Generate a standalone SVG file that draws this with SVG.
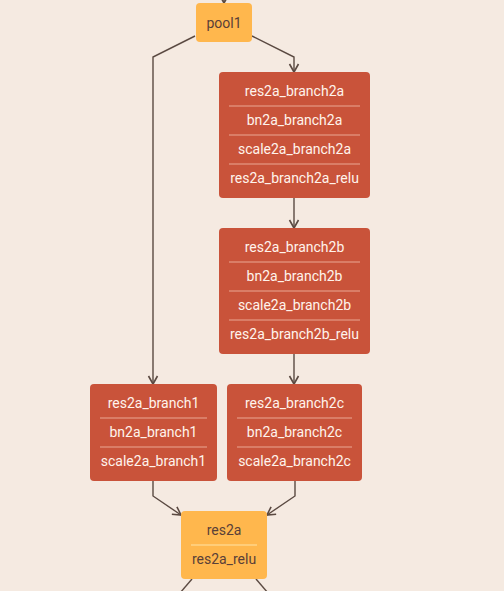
<svg xmlns="http://www.w3.org/2000/svg" width="504" height="591" viewBox="0 0 504 591">
<defs>
<marker id="arr" markerWidth="12" markerHeight="12" refX="10" refY="6" orient="auto" markerUnits="userSpaceOnUse">
<path d="M2,1.5 L10,6 L2,10.5" fill="none" stroke="#5b4a42" stroke-width="1.6"/>
</marker>
<style>
.e{fill:none;stroke:#5b4a42;stroke-width:1.4}
.r{fill:#c9533a}
.y{fill:#ffb74d}
.sr{stroke:#eaa893;stroke-width:1}
.sy{stroke:#ffe3a6;stroke-width:1}
.tw{font-family:Roboto,"Liberation Sans",sans-serif;font-size:14px;fill:#fff3ec;text-anchor:middle;dominant-baseline:central}
.td{font-family:Roboto,"Liberation Sans",sans-serif;font-size:14px;fill:#5a4038;text-anchor:middle;dominant-baseline:central}
</style>
</defs>
<rect width="504" height="591" fill="#f5eae1"/>
<g id="edges">
<path class="e" d="M224,-10 L224,3" marker-end="url(#arr)"/>
<path class="e" d="M195,36 L153,57 L153,384" marker-end="url(#arr)"/>
<path class="e" d="M252,36 L294,57 L294,72" marker-end="url(#arr)"/>
<path class="e" d="M294,198 L294,228" marker-end="url(#arr)"/>
<path class="e" d="M294,354 L294,384" marker-end="url(#arr)"/>
<path class="e" d="M153,481 L153,496 L181,515" marker-end="url(#arr)"/>
<path class="e" d="M295,481 L295,496 L267,515" marker-end="url(#arr)"/>
<path class="e" d="M192,579 L180,593"/>
<path class="e" d="M256,579 L268,593"/>
</g>
<g id="pool1">
<rect class="y" x="196" y="3" width="56" height="39" rx="4"/>
<text class="td" x="224" y="22.5">pool1</text>
</g>
<g id="res2a_branch2a">
<rect class="r" x="219" y="72" width="151" height="126" rx="4"/>
<line class="sr" x1="229" y1="106" x2="360" y2="106"/>
<line class="sr" x1="229" y1="135" x2="360" y2="135"/>
<line class="sr" x1="229" y1="164" x2="360" y2="164"/>
<text class="tw" x="294.5" y="91">res2a_branch2a</text>
<text class="tw" x="294.5" y="120">bn2a_branch2a</text>
<text class="tw" x="294.5" y="149">scale2a_branch2a</text>
<text class="tw" x="294.5" y="178">res2a_branch2a_relu</text>
</g>
<g id="res2a_branch2b">
<rect class="r" x="219" y="228" width="151" height="126" rx="4"/>
<line class="sr" x1="229" y1="262" x2="360" y2="262"/>
<line class="sr" x1="229" y1="291" x2="360" y2="291"/>
<line class="sr" x1="229" y1="320" x2="360" y2="320"/>
<text class="tw" x="294.5" y="247">res2a_branch2b</text>
<text class="tw" x="294.5" y="276">bn2a_branch2b</text>
<text class="tw" x="294.5" y="305">scale2a_branch2b</text>
<text class="tw" x="294.5" y="334">res2a_branch2b_relu</text>
</g>
<g id="res2a_branch1">
<rect class="r" x="90" y="384" width="127" height="97" rx="4"/>
<line class="sr" x1="100" y1="418" x2="207" y2="418"/>
<line class="sr" x1="100" y1="447" x2="207" y2="447"/>
<text class="tw" x="153.5" y="403">res2a_branch1</text>
<text class="tw" x="153.5" y="432">bn2a_branch1</text>
<text class="tw" x="153.5" y="461">scale2a_branch1</text>
</g>
<g id="res2a_branch2c">
<rect class="r" x="227" y="384" width="135" height="97" rx="4"/>
<line class="sr" x1="237" y1="418" x2="352" y2="418"/>
<line class="sr" x1="237" y1="447" x2="352" y2="447"/>
<text class="tw" x="294.5" y="403">res2a_branch2c</text>
<text class="tw" x="294.5" y="432">bn2a_branch2c</text>
<text class="tw" x="294.5" y="461">scale2a_branch2c</text>
</g>
<g id="res2a">
<rect class="y" x="181" y="511" width="86" height="68" rx="4"/>
<line class="sy" x1="191" y1="545" x2="257" y2="545"/>
<text class="td" x="224" y="530">res2a</text>
<text class="td" x="224" y="559">res2a_relu</text>
</g>
</svg>
